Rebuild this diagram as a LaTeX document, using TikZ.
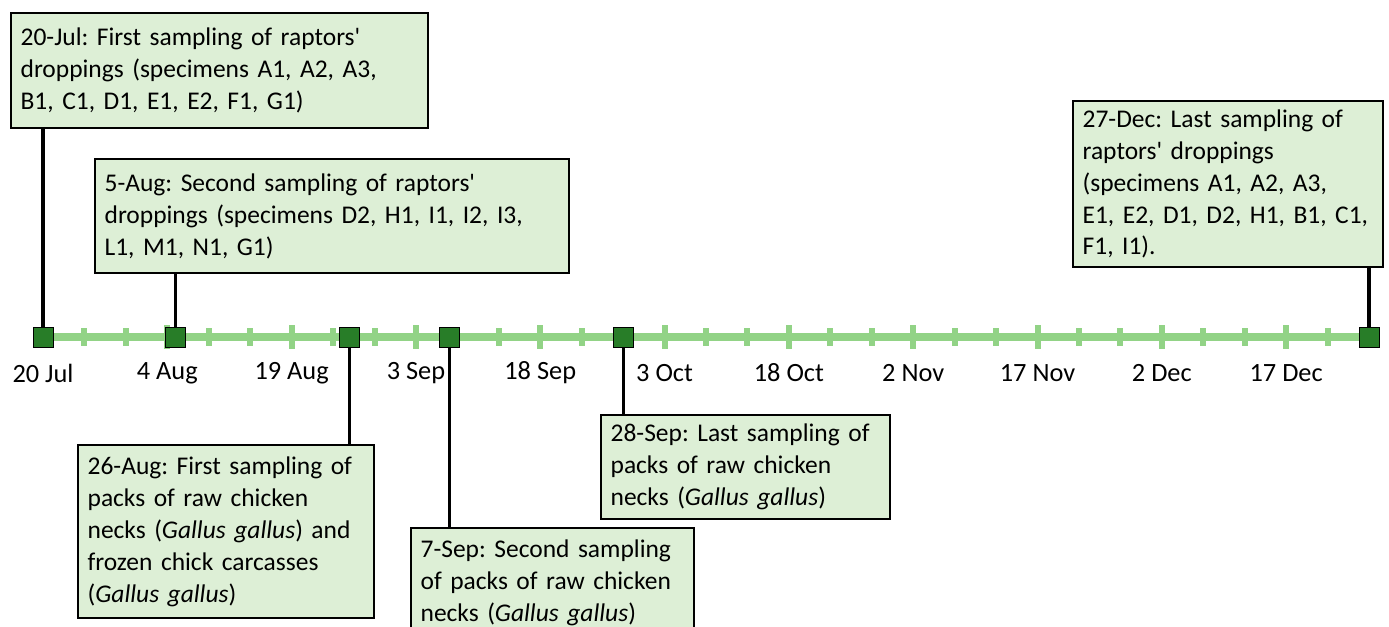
\documentclass[tikz,border=0pt]{standalone}
\usepackage{fontspec}
\setmainfont{Carlito}
\definecolor{boxgreen}{RGB}{221,239,214}
\definecolor{linegreen}{RGB}{146,211,134}
\definecolor{markgreen}{RGB}{40,125,40}
\frenchspacing
\begin{document}
\begin{tikzpicture}[x=0.02cm,y=-0.02cm,
  evbox/.style={draw=black,line width=1.1pt,fill=boxgreen,anchor=north west,align=left,inner xsep=5.5pt,font=\fontsize{14.5pt}{18.2pt}\selectfont},
  daymark/.style={rectangle,draw=black,line width=0.5pt,fill=markgreen,minimum size=0.4cm,inner sep=0pt},
  stem/.style={draw=black,line width=1.8pt},
  datelab/.style={font=\fontsize{15pt}{18pt}\selectfont,inner sep=0pt}]

\clip (0,0) rectangle (1389,626);

\draw[linegreen,line width=0.16cm] (43,337) -- (1369,337);
\foreach \d in {5,10,...,155}{
  \pgfmathsetmacro\th{mod(\d,15)==0 ? 12 : 9}
  \draw[linegreen,line width=0.12cm] (43+\d*8.2875,337-\th) -- (43+\d*8.2875,337+\th);
}
\foreach \d/\t [count=\i] in {0/20 Jul,15/4 Aug,30/19 Aug,45/3 Sep,60/18 Sep,75/3 Oct,90/18 Oct,105/2 Nov,120/17 Nov,135/2 Dec,150/17 Dec}
  \node[datelab] (lab\i) at (43+\d*8.2875,373) {\t};

\node[evbox,text width=7.952cm,minimum height=2.3cm] (b1) at (10,12) {20-Jul: First sampling of raptors\textquotesingle\\droppings (specimens A1, A2, A3,\\B1, C1, D1, E1, E2, F1, G1)};
\node[evbox,text width=9.092cm,minimum height=2.28cm] (b2) at (94,158) {5-Aug: Second sampling of raptors\textquotesingle\\droppings (specimens D2, H1, I1, I2, I3,\\L1, M1, N1, G1)};
\node[evbox,text width=5.812cm,minimum height=3.32cm] (b3) at (1072,100) {27-Dec: Last sampling of\\raptors\textquotesingle{} droppings\\(specimens A1, A2, A3,\\E1, E2, D1, D2, H1, B1, C1,\\F1, I1).};
\node[evbox,text width=5.532cm,minimum height=3.46cm] (b4) at (77,444) {26-Aug: First sampling of\\packs of raw chicken\\necks (\textit{Gallus gallus}) and\\frozen chick carcasses\\(\textit{Gallus gallus})};
\node[evbox,text width=5.272cm,minimum height=2.2cm] (b5) at (410,527) {7-Sep: Second sampling\\of packs of raw chicken\\necks (\textit{Gallus gallus})};
\node[evbox,text width=5.392cm,minimum height=2.08cm] (b6) at (600,414) {28-Sep: Last sampling of\\packs of raw chicken\\necks (\textit{Gallus gallus})};

\node[daymark] (m1) at (43,337) {};
\node[daymark] (m2) at (43+16*8.2875,337) {};
\node[daymark] (m3) at (43+37*8.2875,337) {};
\node[daymark] (m4) at (43+49*8.2875,337) {};
\node[daymark] (m5) at (43+70*8.2875,337) {};
\node[daymark] (m6) at (43+160*8.2875,337) {};

\draw[stem] (m1.north) -- (m1.north |- b1.south);
\draw[stem] (m2.north) -- (m2.north |- b2.south);
\draw[stem] (m3.south) -- (m3.south |- b4.north);
\draw[stem] (m4.south) -- (m4.south |- b5.north);
\draw[stem] (m5.south) -- (m5.south |- b6.north);
\draw[stem] (m6.north) -- (m6.north |- b3.south);

\end{tikzpicture}
\end{document}
